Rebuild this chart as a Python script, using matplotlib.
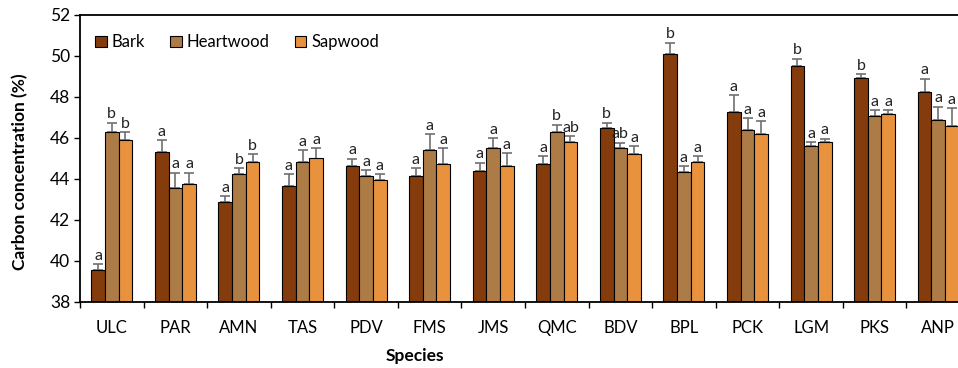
import numpy as np
import matplotlib.pyplot as plt
from matplotlib.patches import Patch

species = ['ULC', 'PAR', 'AMN', 'TAS', 'PDV', 'FMS', 'JMS', 'QMC',
           'BDV', 'BPL', 'PCK', 'LGM', 'PKS', 'ANP']

bark = [39.57, 45.30, 42.86, 43.64, 44.62, 44.13, 44.40, 44.72,
        46.47, 50.08, 47.25, 49.50, 48.91, 48.23]
bark_err = [0.28, 0.59, 0.31, 0.59, 0.38, 0.39, 0.40, 0.40,
            0.28, 0.57, 0.86, 0.37, 0.19, 0.67]
bark_let = ['a', 'a', 'a', 'a', 'a', 'a', 'a', 'a',
            'b', 'b', 'a', 'b', 'b', 'a']

heart = [46.28, 43.55, 44.24, 44.81, 44.13, 45.40, 45.50, 46.28,
         45.50, 44.33, 46.37, 45.60, 47.06, 46.86]
heart_err = [0.47, 0.76, 0.28, 0.59, 0.29, 0.78, 0.48, 0.37,
             0.27, 0.29, 0.59, 0.19, 0.29, 0.67]
heart_let = ['b', 'a', 'b', 'a', 'a', 'a', 'a', 'b',
             'ab', 'a', 'a', 'a', 'a', 'a']

sap = [45.89, 43.74, 44.81, 45.00, 43.94, 44.72, 44.63, 45.79,
       45.20, 44.81, 46.18, 45.79, 47.16, 46.57]
sap_err = [0.39, 0.57, 0.39, 0.50, 0.29, 0.78, 0.65, 0.29,
           0.40, 0.29, 0.66, 0.18, 0.19, 0.88]
sap_let = ['b', 'a', 'b', 'a', 'a', 'a', 'a', 'ab',
           'a', 'a', 'a', 'a', 'a', 'a']

series = ['Bark', 'Heartwood', 'Sapwood']
colors = ['#843C0C', '#AD7B45', '#E8923E']

plt.rcParams['font.family'] = ['Lato', 'DejaVu Sans']

fig = plt.figure(figsize=(9.58, 3.68), dpi=100)
ax = fig.add_axes([80 / 958, 66 / 368, 890 / 958, 287 / 368])

x = np.arange(len(species))
w = 0.215
data = [(bark, bark_err, bark_let), (heart, heart_err, heart_let),
        (sap, sap_err, sap_let)]
for i, (vals, errs, lets) in enumerate(data):
    pos = x + (i - 1) * w
    ax.bar(pos, np.array(vals) - 38, w, bottom=38, color=colors[i],
           edgecolor='black', linewidth=0.8, zorder=2)
    ax.errorbar(pos, vals, yerr=[np.zeros(len(vals)), errs], fmt='none',
                ecolor='#6f6f6f', elinewidth=1.2, capsize=3.5, capthick=1.2,
                zorder=1)
    for p, v, e, t in zip(pos, vals, errs, lets):
        ax.text(p, v + e + 0.06, t, ha='center', va='bottom', fontsize=11.5,
                color='#222222')

ax.set_ylim(38, 52)
ax.set_yticks(np.arange(38, 53, 2))
ax.set_xlim(-0.5, len(species) - 0.5)
ax.set_xticks(x)
ax.set_xticklabels(species)
ax.set_xticks(np.arange(-0.5, len(species), 1), minor=True)
ax.tick_params(axis='x', which='major', length=0, pad=13, labelsize=12)
ax.tick_params(axis='x', which='minor', length=4, width=1)
ax.tick_params(axis='y', length=4, width=1, labelsize=12.5, pad=3)

for s in ['left', 'bottom', 'top']:
    ax.spines[s].set_linewidth(1.3)
ax.spines['right'].set_visible(False)

ax.set_ylabel('Carbon concentration (%)', fontsize=12.5, fontweight='bold')
ax.yaxis.set_label_coords(-0.058, 0.455)
ax.set_xlabel('Species', fontsize=12.5, fontweight='bold')
ax.xaxis.set_label_coords((415 - 80) / 890, -0.16)

handles = [Patch(facecolor=c, edgecolor='black', linewidth=0.8) for c in colors]
ax.legend(handles, series, loc='upper left', bbox_to_anchor=(0.0, 0.985),
          ncol=3, frameon=False, fontsize=12, handlelength=0.7,
          handleheight=0.7, handletextpad=0.3, columnspacing=1.5)

fig.savefig('out.png', dpi=100)
